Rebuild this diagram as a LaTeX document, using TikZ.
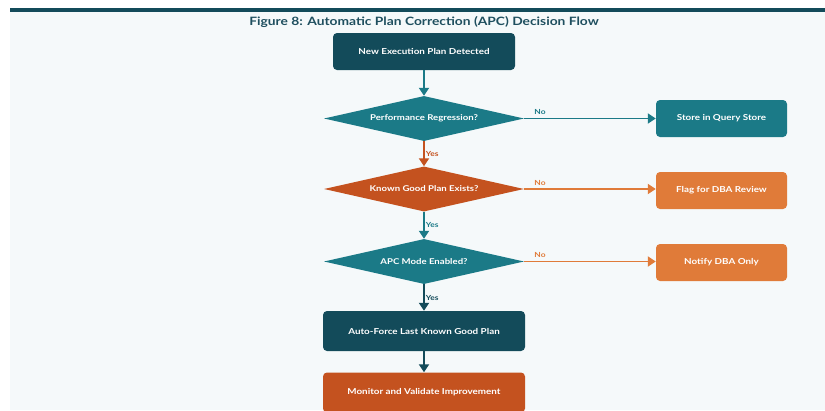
\documentclass[tikz,border=0pt]{standalone}
\usepackage{fontspec}
\setmainfont{Lato}[FakeStretch=1.2]
\usetikzlibrary{shapes.geometric,arrows.meta}
\definecolor{bgc}{HTML}{F5F9FA}
\definecolor{darkteal}{HTML}{134B5A}
\definecolor{teal}{HTML}{1B7A87}
\definecolor{rust}{HTML}{C4521F}
\definecolor{orng}{HTML}{E07B39}
\definecolor{titlec}{HTML}{1F4F5F}
\tikzset{
  box/.style={draw=none, fill=#1, rounded corners=4pt, text=white, font=\bfseries\fontsize{8.2}{10}\selectfont, align=center},
  dia/.style={diamond, draw=none, fill=#1, text=white, font=\bfseries\fontsize{8}{10}\selectfont, inner sep=0pt, minimum width=200pt, minimum height=45pt, aspect=4.4},
  conn/.style={draw=#1, line width=1.8pt, -{Triangle[length=8pt,width=10pt]}},
  lbl/.style={text=#1, font=\bfseries\fontsize{7}{8}\selectfont, inner sep=1pt},
}
\begin{document}
\begin{tikzpicture}[x=1pt,y=-1pt]
\useasboundingbox (0,0) rectangle (825,410);
\begin{scope}
\clip (0,0) rectangle (825,410);
\fill[bgc] (10,8) rectangle (825,410);
\fill[darkteal] (10,8) rectangle (825,12);
\node[text=titlec, font=\bfseries\fontsize{11.5}{13}\selectfont] (title) at (424,22) {Figure 8: Automatic Plan Correction (APC) Decision Flow};

\node[box=darkteal, minimum width=182pt, minimum height=37pt] (start) at (424,51.5) {New Execution Plan Detected};
\node[dia=teal] (d1) at (424,118.5) {Performance Regression?};
\node[dia=rust] (d2) at (424,189) {Known Good Plan Exists?};
\node[dia=teal] (d3) at (424,261.5) {APC Mode Enabled?};
\node[box=teal, minimum width=131pt, minimum height=37pt] (store) at (721.5,118.5) {Store in Query Store};
\node[box=orng, minimum width=131pt, minimum height=37pt] (flag) at (721.5,190.5) {Flag for DBA Review};
\node[box=orng, minimum width=131pt, minimum height=37pt] (notify) at (721.5,262.5) {Notify DBA Only};
\node[box=darkteal, minimum width=202pt, minimum height=40pt] (force) at (424,331) {Auto-Force Last Known Good Plan};
\node[box=rust, minimum width=202pt, minimum height=40pt] (mon) at (424,392.5) {Monitor and Validate Improvement};

\draw[conn=teal] (start) -- (d1.north);
\draw[conn=rust] (d1.south) -- node[lbl=rust, right, pos=0.5] {Yes} (d2.north);
\draw[conn=teal] (d2.south) -- node[lbl=teal, right, pos=0.5] {Yes} (d3.north);
\draw[conn=darkteal] (d3.south) -- node[lbl=darkteal, right, pos=0.5] {Yes} (force.north);
\draw[conn=darkteal] (force) -- (mon);
\draw[conn=teal] (d1.east) -- node[lbl=teal, above=2pt, pos=0.12] {No} (store.west);
\draw[conn=orng] (d2.east) -- node[lbl=orng, above=2pt, pos=0.12] {No} (flag.west |- d2.east);
\draw[conn=orng] (d3.east) -- node[lbl=orng, above=2pt, pos=0.12] {No} (notify.west |- d3.east);
\end{scope}
\end{tikzpicture}
\end{document}
